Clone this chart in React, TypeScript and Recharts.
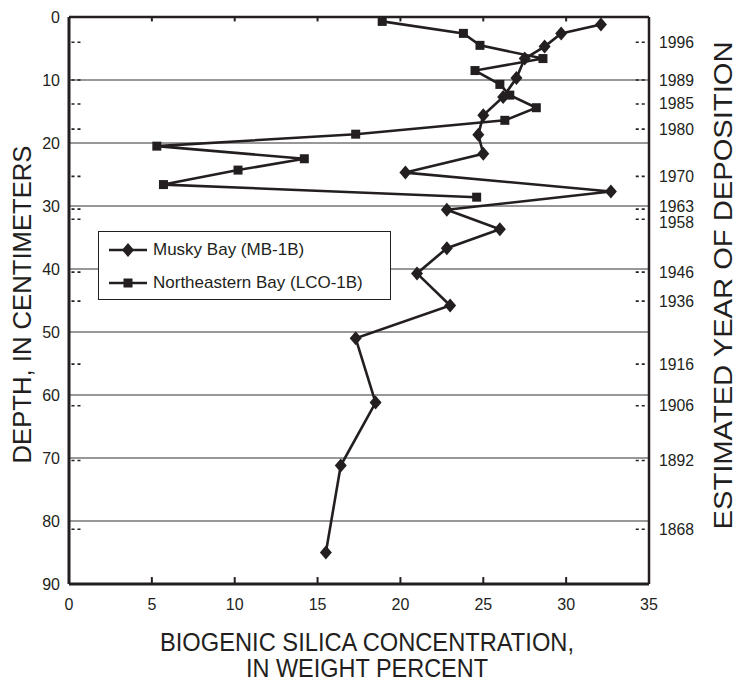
import React from 'react';
import {
  ScatterChart, Scatter, XAxis, YAxis, CartesianGrid, ReferenceLine, Legend, Label
} from 'recharts';

const INK = '#231f20';
const FONT = '"Liberation Sans", Arial, sans-serif';

// Musky Bay (MB-1B): silica (weight %) and depth (cm)
const MUSKY_SILICA = [32.1, 29.7, 28.7, 27.5, 27.0, 26.2, 25.0, 24.7, 25.0, 20.3, 32.7, 22.8, 26.0, 22.8, 21.0, 23.0, 17.3, 18.5, 16.4, 15.5];
const MUSKY_DEPTH = [1.2, 2.6, 4.7, 6.6, 9.7, 12.7, 15.6, 18.7, 21.7, 24.7, 27.7, 30.6, 33.7, 36.7, 40.7, 45.8, 51.0, 61.2, 71.2, 85.0];

// Northeastern Bay (LCO-1B)
const NE_SILICA = [18.9, 23.8, 24.8, 28.6, 24.5, 26.0, 26.6, 28.2, 26.3, 17.3, 5.3, 14.2, 10.2, 5.7, 24.6];
const NE_DEPTH = [0.7, 2.6, 4.5, 6.6, 8.5, 10.7, 12.4, 14.4, 16.4, 18.6, 20.5, 22.5, 24.3, 26.6, 28.6];

// estimated year of deposition, at depth
const YEARS = ['1996', '1989', '1985', '1980', '1970', '1963', '1958', '1946', '1936', '1916', '1906', '1892', '1868'];
const YEAR_DEPTHS = [4, 10, 13.8, 17.8, 25.3, 30.5, 32.1, 40.5, 45.1, 55.1, 61.7, 70.4, 81.3];

const DEPTH_TICKS = [0, 10, 20, 30, 40, 50, 60, 70, 80, 90];
const SILICA_TICKS = [0, 5, 10, 15, 20, 25, 30, 35];

const musky = MUSKY_SILICA.map((x, i) => ({ x, d: MUSKY_DEPTH[i] }));
const northeast = NE_SILICA.map((x, i) => ({ x, d: NE_DEPTH[i] }));

const Diamond = (p: any) => (
  <path d={`M${p.cx},${p.cy - 7}L${p.cx + 6},${p.cy}L${p.cx},${p.cy + 7}L${p.cx - 6},${p.cy}Z`} fill={INK} />
);
const Square = (p: any) => (
  <rect x={p.cx - 4.5} y={p.cy - 4.5} width={9} height={9} fill={INK} />
);

const YearTick = (props: any) => {
  const { x, y, payload } = props;
  const i = YEAR_DEPTHS.indexOf(payload.value);
  // 1963 and 1958 sit very close together; spread them a little
  const nudge = YEARS[i] === '1963' ? -3 : YEARS[i] === '1958' ? 3 : 0;
  return (
    <text x={x + 10} y={y + nudge} dy={5.5} fill={INK} fontSize={16} fontFamily={FONT}
      textAnchor="start" textLength={35} lengthAdjust="spacingAndGlyphs">
      {YEARS[i]}
    </text>
  );
};

const renderLegend = (props: any) => {
  const { payload } = props;
  return (
    <div style={{
      border: `1.5px solid ${INK}`, background: '#fff', width: 293, height: 69,
      boxSizing: 'border-box', fontFamily: FONT, fontSize: 17, color: INK, paddingTop: 1
    }}>
      {(payload || []).map((entry: any, i: number) => (
        <div key={entry.value} style={{ display: 'flex', alignItems: 'center', height: 33, whiteSpace: 'nowrap' }}>
          <svg width={46} height={16} style={{ marginLeft: 8 }}>
            <line x1={2} y1={8} x2={40} y2={8} stroke={INK} strokeWidth={2.6} />
            {i === 0
              ? <path d="M21,1L27,8L21,15L15,8Z" fill={INK} />
              : <rect x={16.5} y={3.5} width={9} height={9} fill={INK} />}
          </svg>
          <span>{entry.value}</span>
        </div>
      ))}
    </div>
  );
};

export default function App() {
  return (
    <div style={{ position: 'absolute', left: 0, top: 0, background: '#fff' }}>
      <ScatterChart width={739} height={685} margin={{ top: 17, right: 30, bottom: 71, left: 29 }}>
        <CartesianGrid horizontal vertical={false} stroke="#333" strokeWidth={1.2} />
        <XAxis
          type="number" dataKey="x" domain={[0, 35]} ticks={SILICA_TICKS} allowDataOverflow
          height={30} tickSize={0} tickMargin={15}
          tick={{ fill: INK, fontSize: 16, fontFamily: FONT }}
          axisLine={{ stroke: INK, strokeWidth: 3 }}
        >
          <Label content={(p: any) => {
            const cx = p.viewBox.x + p.viewBox.width / 2 + 8;
            return (
              <g fill={INK} fontSize={25} fontFamily={FONT}>
                <text x={cx} y={651} textAnchor="middle" textLength={414} lengthAdjust="spacingAndGlyphs">
                  BIOGENIC SILICA CONCENTRATION,
                </text>
                <text x={cx} y={677} textAnchor="middle" textLength={242} lengthAdjust="spacingAndGlyphs">
                  IN WEIGHT PERCENT
                </text>
              </g>
            );
          }} />
        </XAxis>
        <YAxis
          type="number" dataKey="d" domain={[0, 90]} reversed ticks={DEPTH_TICKS} allowDataOverflow
          width={40} tickSize={0} tickMargin={9}
          tick={{ fill: INK, fontSize: 16, fontFamily: FONT }}
          axisLine={{ stroke: INK, strokeWidth: 3 }}
        >
          <Label content={(p: any) => {
            const cx = p.viewBox.x - 7;
            const cy = p.viewBox.y + p.viewBox.height / 2 + 4;
            return (
              <text x={cx} y={cy} transform={`rotate(-90 ${cx} ${cy})`} textAnchor="middle" dominantBaseline="central"
                fill={INK} fontSize={26} fontFamily={FONT} textLength={318} lengthAdjust="spacingAndGlyphs">
                DEPTH, IN CENTIMETERS
              </text>
            );
          }} />
        </YAxis>
        <YAxis
          yAxisId="year" orientation="right" type="number" domain={[0, 90]} reversed allowDataOverflow
          ticks={YEAR_DEPTHS} interval={0} width={60} tickSize={0} tickMargin={0}
          tick={<YearTick />} axisLine={{ stroke: INK, strokeWidth: 2.5 }}
        >
          <Label content={(p: any) => {
            const cx = p.viewBox.x + 74;
            const cy = p.viewBox.y + p.viewBox.height / 2 - 15;
            return (
              <text x={cx} y={cy} transform={`rotate(-90 ${cx} ${cy})`} textAnchor="middle" dominantBaseline="central"
                fill={INK} fontSize={26} fontFamily={FONT} textLength={488} lengthAdjust="spacingAndGlyphs">
                ESTIMATED YEAR OF DEPOSITION
              </text>
            );
          }} />
        </YAxis>

        <ReferenceLine y={0} stroke={INK} strokeWidth={2.5} />
        {SILICA_TICKS.slice(1, -1).map((v) => (
          <ReferenceLine key={`b${v}`} segment={[{ x: v, y: 90 }, { x: v, y: 88.9 }]} stroke={INK} strokeWidth={2} />
        ))}
        {SILICA_TICKS.slice(1, -1).map((v) => (
          <ReferenceLine key={`t${v}`} segment={[{ x: v, y: 0 }, { x: v, y: 0.7 }]} stroke={INK} strokeWidth={2} />
        ))}
        {YEAR_DEPTHS.map((d) => (
          <ReferenceLine key={`l${d}`} segment={[{ x: 0.15, y: d }, { x: 0.7, y: d }]} stroke={INK} strokeWidth={1.6} strokeDasharray="3 3" />
        ))}
        {YEAR_DEPTHS.map((d) => (
          <ReferenceLine key={`r${d}`} segment={[{ x: 34.2, y: d }, { x: 34.75, y: d }]} stroke={INK} strokeWidth={1.6} strokeDasharray="3 3" />
        ))}

        <Scatter name="Musky Bay (MB-1B)" data={musky} shape={Diamond}
          line={{ stroke: INK, strokeWidth: 2.6 }} isAnimationActive={false} />
        <Scatter name="Northeastern Bay (LCO-1B)" data={northeast} shape={Square}
          line={{ stroke: INK, strokeWidth: 2.6 }} isAnimationActive={false} />

        <Legend layout="horizontal" verticalAlign="middle" align="center"
          wrapperStyle={{ left: 98, top: 231, width: 293, height: 69 }} content={renderLegend} />
      </ScatterChart>
    </div>
  );
}
